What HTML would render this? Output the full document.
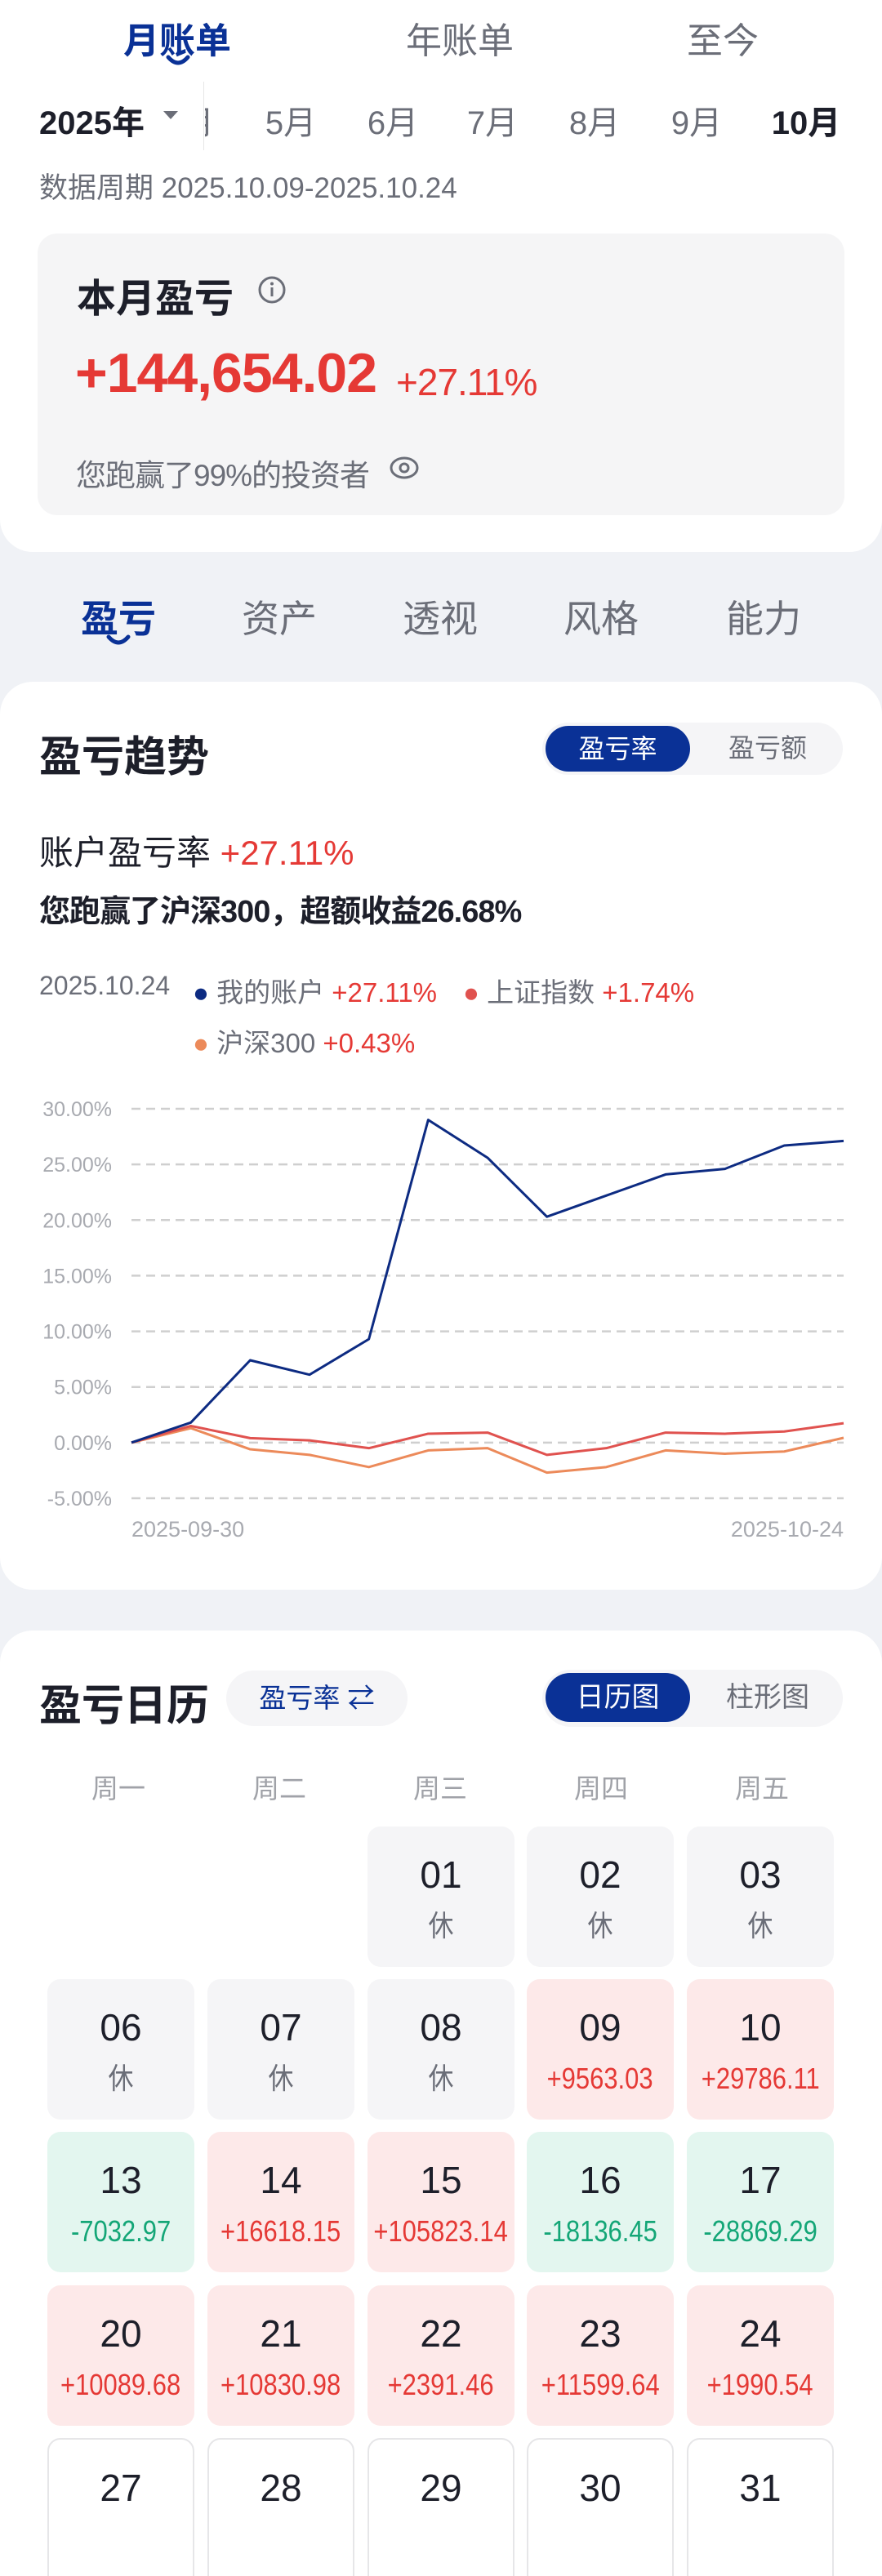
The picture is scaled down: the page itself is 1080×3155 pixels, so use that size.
<!DOCTYPE html>
<html><head><meta charset="utf-8">
<style>
*{margin:0;padding:0;box-sizing:border-box}
html,body{width:1080px;height:3155px;overflow:hidden}
body{background:#f0f2f6;font-family:"Liberation Sans","Noto Sans CJK SC",sans-serif;color:#1d1f2a}
#wrap{position:relative;width:1080px;height:3155px;overflow:hidden}
.a{position:absolute;white-space:nowrap}
.c{transform:translateX(-50%)}
.card{position:absolute;background:#fff}
.gray{color:#6b6e78}
.red{color:#e53935}
.cell{position:absolute;width:180px;height:172px;border-radius:16px;text-align:center}
.cell .d{position:absolute;left:0;right:0;top:32px;font-size:46px;line-height:54px;color:#1d1f2a}
.cell .v{position:absolute;left:-10px;right:-10px;top:102px;font-size:36px;line-height:40px}
.cell .v span{display:inline-block;transform:scaleX(0.86)}
</style></head><body>
<div id="wrap">
<div class="card" style="left:0;top:0;width:1080px;height:676px;border-radius:0 0 40px 40px"></div>
<div class="a c" style="left:217px;top:14px;font-size:44px;color:#0a3196;font-weight:bold">月账单</div>
<svg class="a" style="left:203px;top:66px" width="30" height="18"><path d="M3 4 Q15 18 27 4" stroke="#0a3196" stroke-width="5" fill="none" stroke-linecap="round"/></svg>
<div class="a c gray" style="left:563px;top:14px;font-size:44px">年账单</div>
<div class="a c gray" style="left:885px;top:14px;font-size:44px">至今</div>

<div class="a" style="left:48px;top:118px;font-size:40px;font-weight:bold">2025年</div>
<svg class="a" style="left:198px;top:134px" width="22" height="14"><path d="M2 2 L20 2 L11 12 Z" fill="#6b6e78"/></svg>
<div class="a" style="left:249px;top:100px;width:1px;height:84px;background:#e6e6e6"></div>
<div class="a" style="left:251px;top:100px;width:829px;height:84px;overflow:hidden">
 <div class="a c gray" style="left:-20px;top:18px;font-size:40px">4月</div>
 <div class="a c gray" style="left:105px;top:18px;font-size:40px">5月</div>
 <div class="a c gray" style="left:230px;top:18px;font-size:40px">6月</div>
 <div class="a c gray" style="left:352px;top:18px;font-size:40px">7月</div>
 <div class="a c gray" style="left:477px;top:18px;font-size:40px">8月</div>
 <div class="a c gray" style="left:602px;top:18px;font-size:40px">9月</div>
 <div class="a c" style="left:736px;top:18px;font-size:40px;font-weight:bold">10月</div>
</div>
<div class="a gray" style="left:48px;top:202px;font-size:35px">数据周期 2025.10.09-2025.10.24</div>

<div class="a" style="left:46px;top:286px;width:988px;height:345px;background:#f5f5f6;border-radius:24px"></div>
<div class="a" style="left:94px;top:326px;font-size:48px;font-weight:bold">本月盈亏</div>
<svg class="a" style="left:315px;top:337px" width="36" height="36"><circle cx="18" cy="18" r="15" stroke="#6b6e78" stroke-width="3" fill="none"/><rect x="16.5" y="15" width="3" height="11" fill="#6b6e78"/><circle cx="18" cy="10.5" r="2" fill="#6b6e78"/></svg>
<div class="a red" style="left:92px;top:418px;font-size:68px;font-weight:bold;letter-spacing:-1px">+144,654.02</div>
<div class="a red" style="left:485px;top:441px;font-size:46px;letter-spacing:-1px">+27.11%</div>
<div class="a gray" style="left:93px;top:552px;font-size:37px;letter-spacing:-1px">您跑赢了99%的投资者</div>
<svg class="a" style="left:476px;top:556px" width="38" height="34"><ellipse cx="19" cy="17" rx="16" ry="12" stroke="#6b6e78" stroke-width="3" fill="none"/><circle cx="19" cy="17" r="5" stroke="#6b6e78" stroke-width="3" fill="none"/></svg>

<div class="a c" style="left:145px;top:722px;font-size:46px;color:#0a3196;font-weight:bold">盈亏</div>
<svg class="a" style="left:130px;top:776px" width="30" height="18"><path d="M3 4 Q15 18 27 4" stroke="#0a3196" stroke-width="5" fill="none" stroke-linecap="round"/></svg>
<div class="a c gray" style="left:342px;top:722px;font-size:46px">资产</div>
<div class="a c gray" style="left:539px;top:722px;font-size:46px">透视</div>
<div class="a c gray" style="left:736px;top:722px;font-size:46px">风格</div>
<div class="a c gray" style="left:935px;top:722px;font-size:46px">能力</div>

<div class="card" style="left:0;top:835px;width:1080px;height:1112px;border-radius:40px"></div>
<div class="a" style="left:48px;top:885px;font-size:52px;font-weight:bold">盈亏趋势</div>
<div class="a" style="left:664px;top:885px;width:368px;height:64px;background:#f5f5f7;border-radius:32px"></div>
<div class="a" style="left:668px;top:889px;width:177px;height:56px;background:#0a3196;border-radius:28px;color:#fff;font-size:32px;line-height:56px;text-align:center">盈亏率</div>
<div class="a c gray" style="left:940px;top:896px;font-size:32px;line-height:40px">盈亏额</div>
<div class="a" style="left:48px;top:1011px;font-size:42px">账户盈亏率 <span class="red">+27.11%</span></div>
<div class="a" style="left:48px;top:1085px;font-size:38px;font-weight:bold;letter-spacing:-1px">您跑赢了沪深300，超额收益26.68%</div>

<div class="a gray" style="left:48px;top:1189px;font-size:32px">2025.10.24</div>
<div class="a" style="left:236px;top:1189px;font-size:33px"><span style="color:#0d2b82">●</span> <span class="gray">我的账户</span> <span class="red">+27.11%</span></div>
<div class="a" style="left:567px;top:1189px;font-size:33px"><span style="color:#e0524f">●</span> <span class="gray">上证指数</span> <span class="red">+1.74%</span></div>
<div class="a" style="left:236px;top:1251px;font-size:33px"><span style="color:#ec8a5a">●</span> <span class="gray">沪深300</span> <span class="red">+0.43%</span></div>

<svg class="a" id="chart" style="left:0;top:1300px" width="1080" height="620"></svg>

<div class="card" style="left:0;top:1997px;width:1080px;height:1158px;border-radius:40px 40px 0 0"></div>
<div class="a" style="left:48px;top:2047px;font-size:52px;font-weight:bold">盈亏日历</div>
<div class="a" style="left:277px;top:2046px;width:222px;height:68px;background:#f5f5f7;border-radius:34px;color:#0a3196;font-size:33px;line-height:68px;text-align:center">盈亏率 ⇄</div>
<div class="a" style="left:664px;top:2045px;width:368px;height:70px;background:#f5f5f7;border-radius:35px"></div>
<div class="a" style="left:668px;top:2049px;width:177px;height:60px;background:#0a3196;border-radius:30px;color:#fff;font-size:34px;line-height:60px;text-align:center">日历图</div>
<div class="a c gray" style="left:940px;top:2058px;font-size:34px;line-height:42px">柱形图</div>
<div class="a c" style="left:145px;top:2164px;font-size:33px;color:#a0a2a8">周一</div>
<div class="a c" style="left:342px;top:2164px;font-size:33px;color:#a0a2a8">周二</div>
<div class="a c" style="left:539px;top:2164px;font-size:33px;color:#a0a2a8">周三</div>
<div class="a c" style="left:736px;top:2164px;font-size:33px;color:#a0a2a8">周四</div>
<div class="a c" style="left:933px;top:2164px;font-size:33px;color:#a0a2a8">周五</div>
<div id="cal"></div>
</div>

<script>
const dates = ["2025-09-30","10-09","10-10","10-13","10-14","10-15","10-16","10-17","10-20","10-21","10-22","10-23","2025-10-24"];
const myAccount = [0, 1.8, 7.4, 6.1, 9.3, 29.0, 25.6, 20.3, 22.2, 24.1, 24.6, 26.7, 27.11];
const sseIndex = [0, 1.5, 0.4, 0.2, -0.5, 0.8, 0.9, -1.1, -0.5, 0.9, 0.8, 1.0, 1.74];
const hs300 = [0, 1.3, -0.6, -1.1, -2.2, -0.7, -0.5, -2.7, -2.2, -0.7, -1.0, -0.8, 0.43];
const yTicks = [30, 25, 20, 15, 10, 5, 0, -5];
const xTickLabels = ["2025-09-30", "2025-10-24"];

const calDays = ["01","02","03","06","07","08","09","10","13","14","15","16","17","20","21","22","23","24","27","28","29","30","31"];
const calValues = ["休","休","休","休","休","休","+9563.03","+29786.11","-7032.97","+16618.15","+105823.14","-18136.45","-28869.29","+10089.68","+10830.98","+2391.46","+11599.64","+1990.54","","","","",""];
const calStartCol = 2;

const NS = "http://www.w3.org/2000/svg";
const svg = document.getElementById('chart');
const X0 = 161, X1 = 1033, TOP = 1300;
const yMax = 30, yMin = -5, PY0 = 1358 - TOP, PY1 = 1835 - TOP;
function xs(i){ return X0 + (X1 - X0) * i / (dates.length - 1); }
function ys(v){ return PY0 + (yMax - v) / (yMax - yMin) * (PY1 - PY0); }
function mk(tag, attrs){ const e = document.createElementNS(NS, tag); for (const k in attrs) e.setAttribute(k, attrs[k]); svg.appendChild(e); return e; }
yTicks.forEach(t => {
  const g = mk('line', {x1: X0, x2: X1, y1: ys(t), y2: ys(t), stroke: '#cfcfcf', 'stroke-width': 2.5, 'stroke-dasharray': '11 7'});
  
  
  const l = mk('text', {x: 137, y: ys(t) + 9, 'text-anchor': 'end', 'font-size': 25, fill: '#a8aab0'});
  l.textContent = t.toFixed(2) + '%';
  
  
});
const xl1 = mk('text', {x: X0, y: 1882 - TOP, 'font-size': 27, fill: '#a8aab0'});
xl1.textContent = xTickLabels[0];


const xl2 = mk('text', {x: X1, y: 1882 - TOP, 'font-size': 27, fill: '#a8aab0', 'text-anchor': 'end'});
xl2.textContent = xTickLabels[1];


function line(vals, color, name){
  const p = mk('polyline', {points: vals.map((v,i) => xs(i) + ',' + ys(v)).join(' '), fill: 'none', stroke: color, 'stroke-width': 3, 'stroke-linejoin': 'round'});
  
  
}
line(hs300, '#ec8a5a', 'hs300-line');
line(sseIndex, '#e0524f', 'sse-index-line');
line(myAccount, '#0d2b82', 'my-account-line');

const cal = document.getElementById('cal');
const colL = [58, 254, 450, 645, 841];
const rowT = [2237, 2424, 2611, 2799, 2986];
calDays.forEach((d, i) => {
  const pos = i + calStartCol;
  const r = Math.floor(pos / 5), c = pos % 5;
  const v = calValues[i];
  const el = document.createElement('div');
  el.className = 'cell';
  
  
  el.style.left = colL[c] + 'px';
  el.style.top = rowT[r] + 'px';
  let bg = '#f5f5f7', fc = '#6b6e78';
  if (v.startsWith('+')) { bg = '#fde9e9'; fc = '#e53935'; }
  else if (v.startsWith('-')) { bg = '#e3f6ef'; fc = '#14a677'; }
  else if (v === '') { bg = '#fff'; el.style.border = '2px solid #e6e6e8'; el.style.height = '180px'; el.style.borderRadius = '16px 16px 0 0'; }
  el.style.background = bg;
  el.innerHTML = '<div class="d">' + d + '</div><div class="v" style="color:' + fc + '"><span>' + v + '</span></div>';
  cal.appendChild(el);
});
</script>
</body></html>
